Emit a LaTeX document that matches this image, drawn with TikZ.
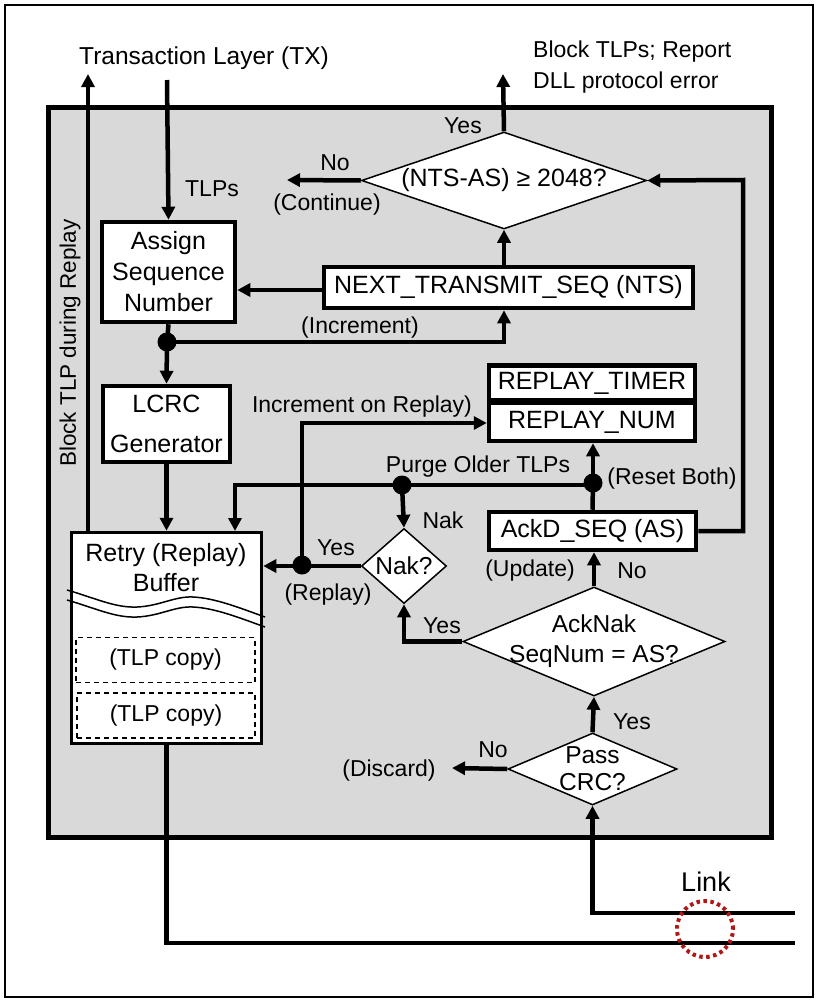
\documentclass[tikz,border=0pt]{standalone}
\usepackage{fontspec}
\setmainfont{Liberation Sans}
\usetikzlibrary{arrows.meta,shapes.geometric}
\definecolor{panel}{HTML}{D9D9D9}
\definecolor{linkred}{HTML}{B01818}
\tikzset{
  box/.style={draw, line width=4.5pt, fill=white, inner sep=0pt, align=center, font=\fontsize{25}{31}\selectfont},
  tlpbox/.style={draw, line width=1.8pt, dash pattern=on 5pt off 4pt, fill=white, inner sep=0pt, font=\fontsize{23}{28}\selectfont},
  dia/.style={draw, diamond, line width=1.5pt, fill=white, inner sep=0pt},
  ditext/.style={align=center, inner sep=0pt, font=\fontsize{25}{30}\selectfont},
  lbl/.style={inner sep=0pt, font=\fontsize{23}{28}\selectfont},
  conn/.style={line width=4.5pt, -{Triangle[length=13pt,width=13pt]}},
  wire/.style={line width=4.5pt},
  dot/.style={circle, fill=black, inner sep=0pt, minimum size=19pt},
}
\begin{document}
\begin{tikzpicture}[x=1pt,y=-1pt]
\useasboundingbox (0,0) rectangle (818,1002);
\fill[white] (0,0) rectangle (818,1002);
\draw[line width=1.5pt] (5,5) rectangle (813,997);
\draw[line width=5pt, fill=panel] (48,107) rectangle (771,837);

% labels outside
\node[lbl, anchor=west, font=\fontsize{24.5}{29}\selectfont] (tl) at (79,58) {Transaction Layer (TX)};
\node[lbl, anchor=west] (blk1) at (533,52) {Block TLPs; Report};
\node[lbl, anchor=west] (blk2) at (533,83) {DLL protocol error};
\coordinate (tlpin) at (167,80);
\coordinate (bltip) at (88,74);
\coordinate (yestip) at (503,74);
\coordinate (notip) at (287,180);
\coordinate (disctip) at (452,768);

% boxes
\node[box, minimum width=133pt, minimum height=100pt] (assign) at (168.5,272) {Assign\\Sequence\\Number};
\node[box, minimum width=369pt, minimum height=41pt] (nts) at (508.5,287.5) {NEXT\_TRANSMIT\_SEQ (NTS)};
\node[box, minimum width=127pt, minimum height=76pt, font=\fontsize{25}{40}\selectfont] (lcrc) at (166.5,424) {LCRC\\Generator};
\node[box, minimum width=206pt, minimum height=35pt] (rpt) at (592,383) {REPLAY\_TIMER};
\node[box, minimum width=206pt, minimum height=38pt] (rpn) at (592,422) {REPLAY\_NUM};
\node[box, minimum width=207pt, minimum height=38pt] (as) at (592.5,531) {AckD\_SEQ (AS)};
\node[draw, line width=3.5pt, fill=white, minimum width=190pt, minimum height=211pt, inner sep=0pt] (buf) at (166.5,638) {};
\node[lbl, align=center, font=\fontsize{25}{30}\selectfont] (buftxt) at (166,568) {Retry (Replay)\\Buffer};
\draw[line width=1.5pt] (67,590) .. controls (95,598) and (115,608) .. (137,607) .. controls (160,606) and (175,596) .. (193,597) .. controls (215,598) and (240,608) .. (265,617);
\draw[line width=1.5pt] (67,600) .. controls (95,608) and (115,618) .. (137,617) .. controls (160,616) and (175,606) .. (193,607) .. controls (215,608) and (240,618) .. (265,627);
\node[tlpbox, minimum width=179pt, minimum height=45pt] (tc1) at (165.5,660) {(TLP copy)};
\node[tlpbox, minimum width=178pt, minimum height=45pt] (tc2) at (166,715.5) {(TLP copy)};

% diamonds
\node[dia, minimum width=285pt, minimum height=97pt] (d1) at (504,180.5) {};
\node[ditext] at (d1.center) {(NTS-AS) ≥ 2048?};
\node[dia, minimum width=85pt, minimum height=75pt] (nak) at (404,566) {};
\node[ditext, font=\fontsize{24.5}{30}\selectfont] at (nak.center) {Nak?};
\node[dia, minimum width=262pt, minimum height=109pt] (ack) at (594,641.5) {};
\node[ditext, font=\fontsize{24.5}{30}\selectfont] at (ack.center) {AckNak\\SeqNum = AS?};
\node[dia, minimum width=169pt, minimum height=72pt] (pass) at (592.5,769) {};
\node[ditext, font=\fontsize{24.5}{27}\selectfont] at (pass.center) {Pass\\CRC?};

% junction dots
\node[dot] (jinc) at (167,342) {};
\node[dot] (jreset) at (593,483) {};
\node[dot] (jpurge) at (402,485) {};
\node[dot] (jrep) at (302,565) {};

% connectors
\draw[line width=3.5pt, -{Triangle[length=13pt,width=13pt]}] (buf.north -| bltip) -- (bltip);
\draw[conn] (tlpin) -- (assign.north);
\draw[conn] (nts.west |- 0,290) -- (assign.east |- 0,290);
\draw[conn] (d1.south |- nts.north) -- (d1.south);
\draw[conn] (d1.north) -- (yestip);
\draw[conn] (d1.west) -- (notip);
\draw[conn] (as.east) -| (743,180) -- (d1.east);
\draw[wire] (assign.south) -- (jinc.center);
\draw[conn] (jinc.center) -- (lcrc.north);
\draw[conn] (jinc.center) -| (d1.south |- nts.south);
\draw[conn] (lcrc.south) -- (lcrc.south |- buf.north);
\draw[wire] (as.north) -- (jreset.center);
\draw[conn] (jreset.center) -- (rpn.south -| jreset);
\draw[conn] (jreset.center |- 0,485) -| (235,531);
\draw[conn] (jpurge.center) -- (nak.north);
\draw[conn] (nak.west) -- (buf.east |- nak.west);
\draw[conn] (jrep.center) |- (rpn.west |- 0,423);
\draw[conn] (ack.west) -| (nak.south);
\draw[conn] (ack.north) -- (as.south -| ack.north);
\draw[conn] (pass.north) -- (ack.south);
\draw[conn] (pass.west) -- (disctip);
\coordinate (l1) at (795,913);
\coordinate (l2) at (795,943);
\draw[conn] (l1) -| (pass.south);
\draw[wire] (buf.south) |- (l2);

% connector labels
\node[lbl] at (212,189) {TLPs};
\node[lbl] at (463,126) {Yes};
\node[lbl] at (335,163) {No};
\node[lbl] at (327,205) {(Continue)};
\node[lbl] at (360,328) {(Increment)};
\node[lbl] at (362,407) {Increment on Replay)};
\node[lbl] at (478,467) {Purge Older TLPs};
\node[lbl] at (672,479) {(Reset Both)};
\node[lbl] at (443,520) {Nak};
\node[lbl] at (336,548) {Yes};
\node[lbl] at (328,595) {(Replay)};
\node[lbl] at (530,571) {(Update)};
\node[lbl] at (632,571) {No};
\node[lbl] at (442,626) {Yes};
\node[lbl] at (632,722) {Yes};
\node[lbl] at (493,750) {No};
\node[lbl] at (389,771) {(Discard)};
\node[lbl, rotate=90, font=\fontsize{22.5}{27}\selectfont] at (70,343) {Block TLP during Replay};
\node[lbl, font=\fontsize{27}{32}\selectfont] (link) at (706,882) {Link};
\draw[linkred, line width=4pt, dash pattern=on 3.5pt off 3.5pt] (705,929) circle (28pt);
\end{tikzpicture}
\end{document}
